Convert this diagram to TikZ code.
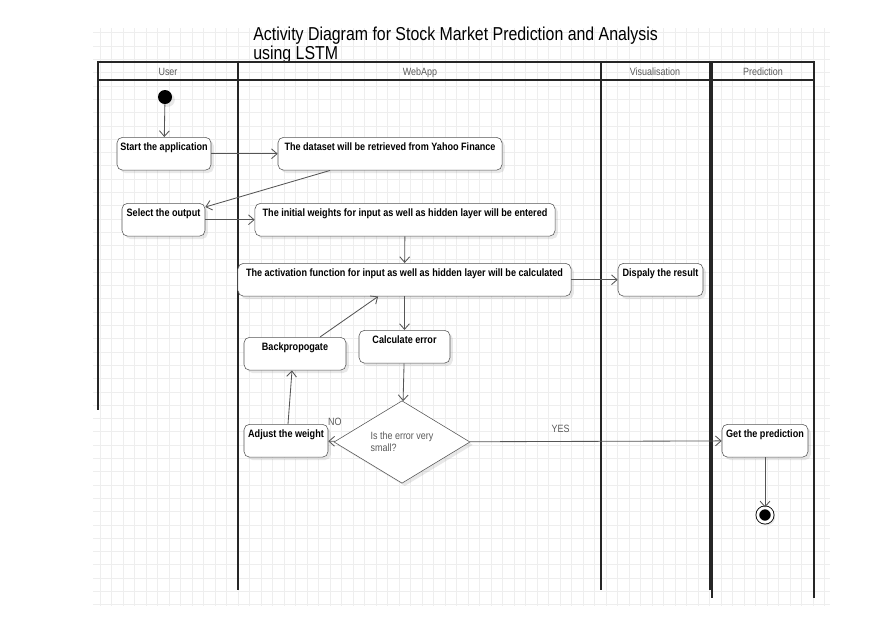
\documentclass[tikz,border=0pt]{standalone}
\usepackage{fontspec}
\usetikzlibrary{arrows.meta,positioning,shapes.geometric,shadows}
\newfontfamily\diafont[FakeStretch=0.85]{Liberation Sans}
\definecolor{linegray}{RGB}{85,85,85}
\definecolor{textgray}{RGB}{90,90,90}
\definecolor{gridgray}{RGB}{238,238,238}

\tikzset{
  act/.style={draw=linegray,fill=white,rounded corners=4pt,anchor=north,
    font=\diafont\fontsize{7.6}{9}\selectfont\bfseries,inner xsep=2pt,inner ysep=0pt,
    text height=9.2pt,text depth=14.2pt,
    drop shadow={opacity=0.18,shadow xshift=2pt,shadow yshift=-2pt}},
  lbl/.style={font=\diafont\fontsize{7.5}{9}\selectfont,text=textgray,inner sep=1pt},
  flow/.style={draw=linegray,line width=0.6pt,-{Straight Barb[length=4pt,width=7pt]}},
  lane/.style={draw=black!85,line width=1.2pt}
}

\begin{document}
\begin{tikzpicture}[x=0.025cm,y=-0.025cm]
  \useasboundingbox (0,0) rectangle (880,641);
  % background grid
  \foreach \gx in {100,111.5,...,826}
    \draw[gridgray,line width=0.4pt] (\gx,28) -- (\gx,606);
  \foreach \gy in {32.7,46,...,605}
    \draw[gridgray,line width=0.4pt] (93,\gy) -- (830,\gy);

  % title
  \node[anchor=north west,align=left,inner sep=0pt,font=\diafont\fontsize{13.3}{11.6}\selectfont] (title) at (253,27)
    {Activity Diagram for Stock Market Prediction and Analysis\\using LSTM};

  % swimlanes
  \draw[lane] (98,62) rectangle (710,80);
  \draw[lane] (712,62) rectangle (814,80);
  \draw[lane] (98,80) -- (98,410);
  \draw[lane] (238,62) -- (238,590);
  \draw[lane] (601,62) -- (601,590);
  \draw[lane] (710,80) -- (710,590);
  \draw[lane] (712,80) -- (712,598);
  \draw[lane] (814,80) -- (814,598);
  \node[lbl,anchor=base] (hUser) at (168,75) {User};
  \node[lbl,anchor=base] (hWeb) at (420,75) {WebApp};
  \node[lbl,anchor=base] (hVis) at (655,75) {Visualisation};
  \node[lbl,anchor=base] (hPred) at (763,75) {Prediction};

  % activities
  \node[circle,fill=black,inner sep=0pt,minimum size=0.35cm,drop shadow={opacity=0.18,shadow xshift=2pt,shadow yshift=-2pt}] (start) at (165,97) {};
  \node[act,minimum width=2.35cm] (app) at (164,137) {Start the application};
  \node[act,minimum width=5.6cm] (data) at (390,137) {The dataset will be retrieved from Yahoo Finance};
  \node[act,minimum width=2.075cm] (select) at (163.5,203) {Select the output};
  \node[act,minimum width=7.5cm] (weights) at (405,203) {The initial weights for input as well as hidden layer will be entered};
  \node[act,minimum width=8.325cm] (activ) at (404.5,263) {The activation function for input as well as hidden layer will be calculated};
  \node[act,minimum width=2.125cm] (show) at (660.5,263) {Dispaly the result};
  \node[act,minimum width=2.55cm] (backprop) at (295,337) {Backpropogate};
  \node[act,minimum width=2.275cm] (calc) at (404.5,330) {Calculate error};
  \node[diamond,draw=linegray,fill=white,minimum width=3.4cm,minimum height=1.45cm,inner sep=0pt,
    align=left,font=\diafont\fontsize{7.5}{8.5}\selectfont,text=textgray,
    drop shadow={opacity=0.18,shadow xshift=2pt,shadow yshift=-2pt}] (check) at (402,442)
    {Is the error very\\small?};
  \node[act,minimum width=2.1cm] (adjust) at (286,424) {Adjust the weight};
  \node[act,minimum width=2.15cm] (getpred) at (765,424) {Get the prediction};
  \node[circle,draw=black,fill=black,line width=0.6pt,double=white,double distance=2pt,
    inner sep=0pt,minimum size=0.36cm,
    drop shadow={opacity=0.18,shadow xshift=2pt,shadow yshift=-2pt}] (stop) at (765,515) {};

  % flows
  \draw[flow] (start) -- (app);
  \draw[flow] (app) -- (data);
  \draw[flow] ([xshift=-1.5cm]data.south) -- ([yshift=-0.1cm]select.north east);
  \draw[flow] (select) -- (weights);
  \draw[flow] (weights) -- (activ);
  \draw[flow] (activ) -- (show);
  \draw[flow] (activ.south) -- (calc.north);
  \draw[flow] (calc) -- (check);
  \draw[flow] (check) -- (adjust) node[lbl,pos=0,above=10pt] (no) {NO};
  \draw[flow] ([xshift=0.05cm]adjust.north) -- ([xshift=-0.075cm]backprop.south);
  \draw[flow] ([xshift=0.625cm]backprop.north) -- ([xshift=-0.66cm]activ.south);
  \draw[flow] (check) -- (getpred) node[lbl,pos=0.36,above=5pt] (yes) {YES};
  \draw[flow] (getpred) -- (stop);
\end{tikzpicture}
\end{document}
